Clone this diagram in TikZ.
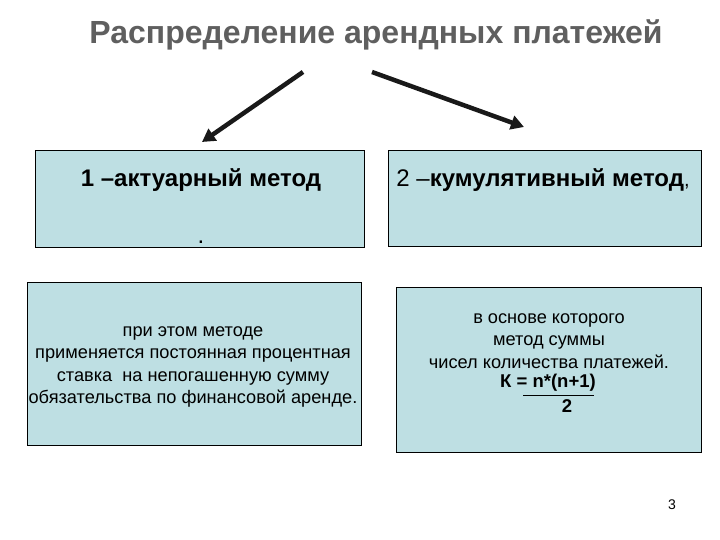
\documentclass[tikz,border=0pt]{standalone}
\usepackage{fontspec}
\setmainfont{Liberation Sans}
\usetikzlibrary{arrows.meta}
\definecolor{boxfill}{HTML}{BEDFE3}
\definecolor{titlegray}{HTML}{5F5F5F}
\tikzset{
  panel/.style={draw=black, line width=0.8bp, fill=boxfill},
  bigarrow/.style={line width=4.5bp, -{Triangle[length=13bp,width=14bp]}, draw=black!90},
  bodytext/.style={align=center, font=\fontsize{18.2bp}{22.3bp}\selectfont, inner sep=0pt},
  headtext/.style={font=\fontsize{24bp}{28bp}\selectfont, inner sep=0pt},
  headbold/.style={font=\fontsize{24bp}{28bp}\selectfont\bfseries, inner sep=0pt},
  formula/.style={font=\fontsize{18.5bp}{22bp}\selectfont\bfseries, inner sep=0pt}
}
\begin{document}
\begin{tikzpicture}[x=1bp,y=-1bp]
\useasboundingbox (0,0) rectangle (720,540);
\node[font=\fontsize{32bp}{36bp}\selectfont\bfseries, text=titlegray] (title) at (376,35) {Распределение арендных платежей};
\draw[panel] (35,150) rectangle (364,247);
\draw[panel] (388,150) rectangle (701,246);
\draw[panel] (27,282) rectangle (361,445);
\draw[panel] (396,287) rectangle (701,452);
\node[headbold] (m1) at (201,180) {1 –актуарный метод};
\node[headtext] (dot) at (201,242) {.};
\node[headtext] (m2) at (543,180) {2 –{\bfseries кумулятивный метод}{\fontsize{20bp}{24bp}\selectfont,}};
\node[bodytext] (t3) at (193,367) {при этом методе\\применяется постоянная процентная\\ставка~ на непогашенную сумму\\обязательства по финансовой аренде.};
\node[bodytext] (t4) at (549,341) {в основе которого\\метод суммы\\чисел количества платежей.};
\node[formula] (f1) at (548,383) {К = n*(n+1)};
\node[formula] (f2) at (567,406) {2};
\coordinate (ul) at (523,395);
\coordinate (ur) at (594,395);
\draw[line width=0.8bp] (ul) -- (ur);
\coordinate (a1s) at (303,72);
\coordinate (a1e) at (202,142);
\coordinate (a2s) at (372,72);
\coordinate (a2e) at (524,127);
\draw[bigarrow] (a1s) -- (a1e);
\draw[bigarrow] (a2s) -- (a2e);
\node[font=\fontsize{14bp}{16bp}\selectfont] (pg) at (672,505) {3};
\end{tikzpicture}
\end{document}
